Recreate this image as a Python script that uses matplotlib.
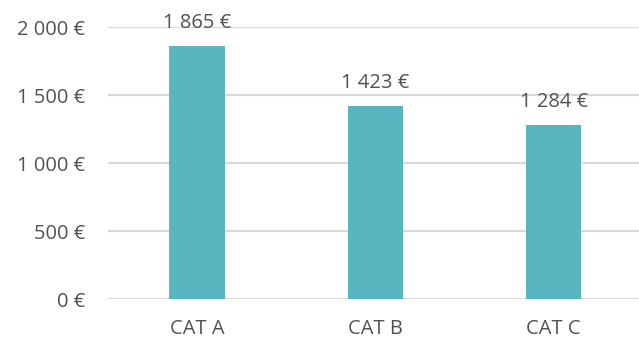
import matplotlib
matplotlib.use("Agg")
import matplotlib.pyplot as plt
from matplotlib.ticker import FuncFormatter

categories = ["CAT A", "CAT B", "CAT C"]
values = [1865, 1423, 1284]
y_ticks = [0, 500, 1000, 1500, 2000]

BAR_COLOR = "#58B6C0"
TEXT_COLOR = "#525252"
GRID_COLOR = "#D9D9D9"

plt.rcParams["font.family"] = ["Open Sans", "DejaVu Sans"]


def euro(v):
    s = f"{int(round(v)):,}".replace(",", " ")
    return f"{s} €"


fig = plt.figure(figsize=(6.39, 3.40), dpi=100)
ax = fig.add_axes([0.169, 0.1197, 0.837, 0.80])

x = range(len(categories))
ax.bar(x, values, width=0.31, color=BAR_COLOR, zorder=3)

ax.set_xlim(-0.5, len(categories) - 0.5)
ax.set_ylim(0, 2000)
ax.set_yticks(y_ticks)
ax.yaxis.set_major_formatter(FuncFormatter(lambda v, p: euro(v)))
ax.set_xticks(list(x))
ax.set_xticklabels(categories)

ax.grid(axis="y", color=GRID_COLOR, linewidth=1.6, zorder=0)
ax.set_axisbelow(True)
for side in ("top", "right", "left", "bottom"):
    ax.spines[side].set_visible(False)
ax.tick_params(axis="both", length=0, labelsize=14.5, colors=TEXT_COLOR)
ax.tick_params(axis="y", pad=16.5)
ax.tick_params(axis="x", pad=14.5)

for xi, v in zip(x, values):
    ax.annotate(euro(v), (xi, v), xytext=(0, 13), textcoords="offset points",
                ha="center", va="baseline", fontsize=14.5, color=TEXT_COLOR,
                annotation_clip=False)

fig.savefig("out.png", dpi=100)
